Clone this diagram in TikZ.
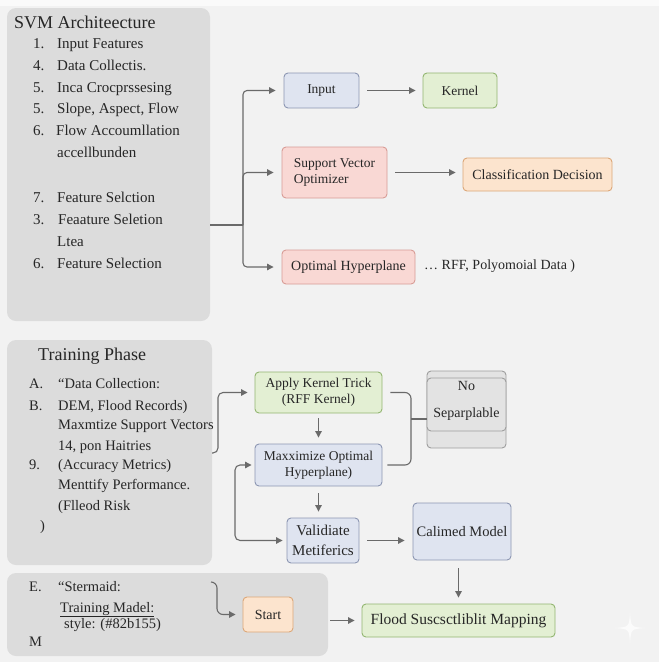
\documentclass[tikz,border=0pt]{standalone}
\usepackage{fontspec}
\setmainfont{Liberation Serif}
\usetikzlibrary{arrows.meta}
\definecolor{bgc}{HTML}{F2F2F2}
\definecolor{panelc}{HTML}{DCDCDC}
\definecolor{txtc}{HTML}{262626}
\definecolor{linec}{HTML}{6A6A6A}
\definecolor{bluef}{HTML}{DFE4F0}
\definecolor{blued}{HTML}{8C96B2}
\definecolor{greenf}{HTML}{E3EFD3}
\definecolor{greend}{HTML}{93B671}
\definecolor{pinkf}{HTML}{F9D8D4}
\definecolor{pinkd}{HTML}{D89C96}
\definecolor{orangef}{HTML}{FCE4CE}
\definecolor{oranged}{HTML}{DCA778}
\definecolor{grayf}{HTML}{E3E3E3}
\definecolor{grayd}{HTML}{9E9E9E}
\tikzset{
  panel/.style={fill=panelc, draw=none, rounded corners=9, inner sep=0},
  box/.style={draw, rounded corners=4, line width=0.9, align=center, inner sep=0, text=txtc},
  bluebox/.style={box, fill=bluef, draw=blued},
  greenbox/.style={box, fill=greenf, draw=greend},
  pinkbox/.style={box, fill=pinkf, draw=pinkd},
  orangebox/.style={box, fill=orangef, draw=oranged},
  graybox/.style={box, fill=grayf, draw=grayd},
  conn/.style={draw=linec, line width=1.1},
  arr/.style={conn, -{Triangle[length=6.5,width=6.5]}},
  lbl/.style={anchor=base west, inner sep=0, text=txtc, font=\fontsize{15}{18}\selectfont},
  lblb/.style={anchor=base west, inner sep=0, text=txtc, font=\fontsize{14.5}{18}\selectfont},
  ttl/.style={anchor=base west, inner sep=0, text=txtc, font=\fontsize{18}{21}\selectfont},
  f13/.style={font=\fontsize{13.5}{16}\selectfont},
  f14/.style={font=\fontsize{14}{16}\selectfont},
  f15/.style={font=\fontsize{15}{20}\selectfont},
}
\begin{document}
\begin{tikzpicture}[x=1pt,y=-1pt]
\useasboundingbox (0,0) rectangle (659,662);
\fill[bgc] (0,0) rectangle (659,662);
\fill[white!60!bgc] (0,0) rectangle (659,6);
% panels
\node[panel, minimum width=203, minimum height=313] (p1) at (108.5,164.5) {};
\node[panel, minimum width=205, minimum height=225] (p2) at (109.5,452.5) {};
\node[panel, minimum width=321, minimum height=83] (p3) at (167.5,614.5) {};
% panel 1 text
\node[ttl] (t1) at (14,28) {SVM Architeecture};
\node[lbl] (n1) at (33,48) {1.};  \node[lbl] (l1) at (57,48) {Input Features};
\node[lbl] (n2) at (33,70) {4.};  \node[lbl] (l2) at (57,70) {Data Collectis.};
\node[lbl] (n3) at (33,92) {5.};  \node[lbl] (l3) at (57,92) {Inca Crocprssesing};
\node[lbl] (n4) at (33,113) {5.}; \node[lbl] (l4) at (57,113) {Slope, Aspect, Flow};
\node[lbl] (n5) at (33,135) {6.}; \node[lbl] (l5) at (56,135) {Flow Accoumllation};
\node[lbl] (l6) at (57,157) {accellbunden};
\node[lbl] (n7) at (33,202) {7.}; \node[lbl] (l7) at (57,202) {Feature Selction};
\node[lbl] (n8) at (33,224) {3.}; \node[lbl] (l8) at (58,224) {Feaature Seletion};
\node[lbl] (l9) at (57,246) {Ltea};
\node[lbl] (n10) at (33,268) {6.}; \node[lbl] (l10) at (57,268) {Feature Selection};
% panel 2 text
\node[ttl] (t2) at (38,360) {Training Phase};
\node[lblb] (m1) at (29,388) {A.}; \node[lblb] (k1) at (58,388) {“Data Collection:};
\node[lblb] (m2) at (29,410) {B.}; \node[lblb] (k2) at (58,410) {DEM, Flood Records)};
\node[lblb] (k3) at (58,429) {Maxmtize Support Vectors};
\node[lblb] (k4) at (58,450) {14, pon Haitries};
\node[lblb] (m5) at (29,469) {9.}; \node[lblb] (k5) at (58,469) {(Accuracy Metrics)};
\node[lblb] (k6) at (58,489) {Menttify Performance.};
\node[lblb] (k7) at (58,510) {(Flleod Risk};
\node[lblb] (k8) at (40,530) {)};
% panel 3 text
\node[lblb] (e1) at (29,591) {E.}; \node[lblb] (e2) at (58,591) {“Stermaid:};
\node[lblb] (e3) at (60,612) {\underline{Training Madel:}};
\node[lblb] (e4) at (64,628) {style: (\#82b155)};
\node[lblb] (e5) at (29,646) {M};
% top boxes
\node[bluebox, f13, minimum width=75, minimum height=35] (in) at (321.5,90.5) {Input};
\node[greenbox, f13, minimum width=74, minimum height=35] (ke) at (460,90.5) {Kernel};
\node[pinkbox, f13, minimum width=105, minimum height=51, align=left] (svo) at (334.5,172.5) {Support Vector\\Optimizer};
\node[orangebox, f14, minimum width=149, minimum height=33] (cd) at (537.5,174.5) {Classification Decision};
\node[pinkbox, f14, minimum width=133, minimum height=34] (oh) at (348.5,267) {Optimal Hyperplane};
\node[anchor=west, inner sep=0, text=txtc, f14] (rff) at (424,266) {… RFF, Polyomoial Data )};
% top connectors
\coordinate (j1) at (243,225);
\draw[conn] (p1.east |- j1) -- (j1);
\draw[arr, rounded corners=4, shorten >=8] (j1) |- (in.west);
\draw[arr, rounded corners=4, shorten >=8] (j1) |- (svo.west);
\draw[arr, rounded corners=4, shorten >=8] (j1) |- (oh.west);
\draw[arr, shorten <=8, shorten >=7] (in.east) -- (ke.west);
\draw[arr, shorten <=8, shorten >=7] (svo.east) -- (svo.east -| cd.west);
% lower boxes
\node[greenbox, f13, minimum width=127, minimum height=41] (ap) at (318.5,392.5) {Apply Kernel Trick\\(RFF Kernel)};
\node[bluebox, f13, minimum width=127, minimum height=42] (mx) at (318.5,465) {Maxximize Optimal\\Hyperplane)};
\node[bluebox, f15, minimum width=72, minimum height=45] (va) at (323,540.5) {Validiate\\Metiferics};
\node[bluebox, font=\fontsize{14.5}{17}\selectfont, minimum width=98, minimum height=57] (ca) at (462,531.5) {Calimed Model};
\node[graybox, minimum width=79, minimum height=77] (nsb) at (466.5,409.5) {};
\node[graybox, minimum width=79, minimum height=53] (ns) at (466.5,404.5) {};
\node[text=txtc, f14, align=center, inner sep=0, font=\fontsize{14}{27}\selectfont] (nst) at (466.5,401) {No\\Separplable};
\node[orangebox, f14, minimum width=50, minimum height=35] (st) at (268,614.5) {Start};
\node[greenbox, font=\fontsize{15.5}{18}\selectfont, minimum width=193, minimum height=33] (fl) at (458.5,620.5) {Flood Suscsctliblit Mapping};
% lower connectors
\coordinate (b2) at (218,453);
\draw[arr, rounded corners=5, shorten >=7] (p2.east |- b2) -- (b2) |- (ap.west);
\coordinate (b3) at (235,500);
\draw[conn, {Triangle[length=6.5,width=6.5]}-{Triangle[length=6.5,width=6.5]}, rounded corners=5, shorten <=3, shorten >=4] (mx.west) -| (b3) |- (va.west);
\draw[arr, shorten <=5, shorten >=6] (ap.south) -- (mx.north);
\draw[arr, shorten <=7, shorten >=6] (mx.south) -- (mx.south |- va.north);
\draw[arr, shorten <=8, shorten >=8] (va.east) -- (va.east -| ca.west);
\coordinate (b4) at (411,419);
\draw[conn, rounded corners=6] ([xshift=8]ap.east) -| (b4) |- ([xshift=5]mx.east);
\draw[conn] (b4) -- (ns.west |- b4);
\draw[arr, shorten <=8, shorten >=6] (ca.south -| fl.north) -- (fl.north);
\coordinate (b5) at (211,582);
\draw[arr, rounded corners=6, shorten >=7] (b5) -- (217,582) |- (st.west);
\draw[arr, shorten <=37, shorten >=7] (st.east |- fl.west) -- (fl.west);
% watermark sparkle
\fill[white, opacity=0.75] (630,613) .. controls (631,627) .. (645,628) .. controls (631,629) .. (630,643) .. controls (629,629) .. (615,628) .. controls (629,627) .. (630,613);
\end{tikzpicture}
\end{document}
